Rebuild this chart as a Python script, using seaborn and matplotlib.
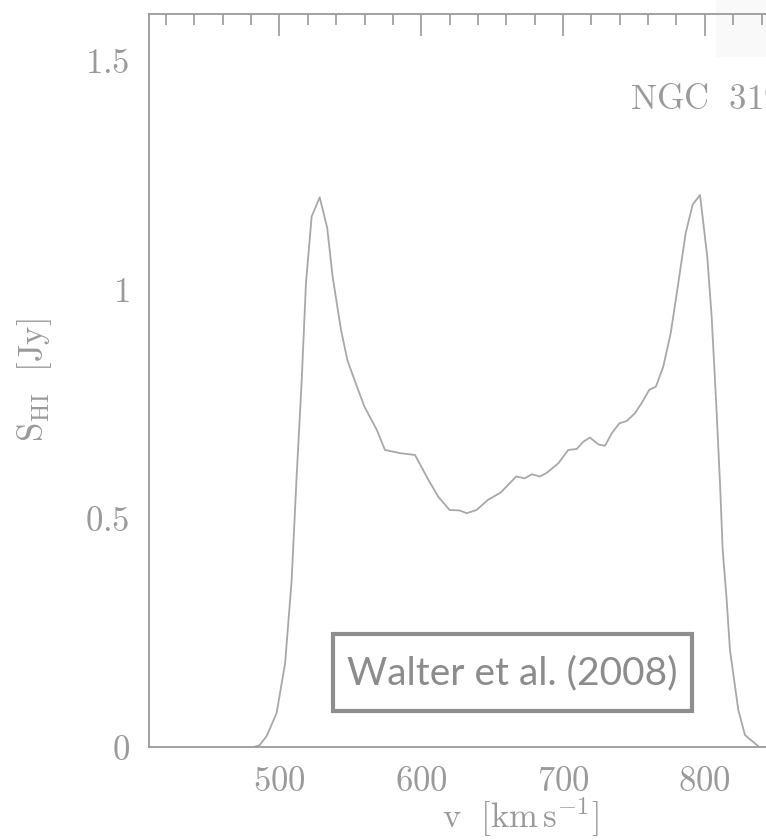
import numpy as np
import pandas as pd
import matplotlib
matplotlib.use("Agg")
import matplotlib.pyplot as plt
from matplotlib.patches import Rectangle
from matplotlib.ticker import MultipleLocator
import seaborn as sns

# ---- data ----
velocity = [482, 486, 491, 498, 504, 508.6, 512, 515.7, 518.7, 522.7, 528.4,
            533.7, 537.5, 543.4, 547.9, 553, 560, 568.6, 574.4, 585, 595.6,
            605, 612, 620, 627, 632, 639, 647, 656, 667, 673, 678, 683.7,
            688.5, 696.7, 703.7, 709.6, 714.3, 719, 724.9, 729.6, 734.3,
            739.7, 744.9, 750.7, 755.4, 760.8, 765.5, 770.7, 775.9, 781.3,
            786.5, 791.4, 796.6, 801.7, 804.8, 807.9, 810.7, 812.6, 815.4,
            817.7, 823.6, 828.3, 838.4, 850]
flux = [0.0, 0.004, 0.024, 0.074, 0.183, 0.364, 0.583, 0.80, 1.012, 1.157, 1.199,
        1.132, 1.026, 0.910, 0.844, 0.800, 0.742, 0.692, 0.648, 0.641, 0.637,
        0.583, 0.546, 0.517, 0.516, 0.510, 0.517, 0.539, 0.555, 0.590, 0.586, 0.595, 0.590,
        0.598, 0.619, 0.648, 0.650, 0.666, 0.675, 0.660, 0.657, 0.684,
        0.706, 0.711, 0.728, 0.750, 0.779, 0.786, 0.830, 0.902, 1.012,
        1.121, 1.183, 1.204, 1.070, 0.939, 0.757, 0.575, 0.430, 0.321,
        0.212, 0.081, 0.026, 0.0, 0.0]
xticks = [500, 600, 700, 800]
xticklabels = ["500", "600", "700", "800"]
yticks = [0, 0.5, 1, 1.5]
yticklabels = ["0", "0.5", "1", "1.5"]
galaxy = "NGC 3198"
source = "Walter et al. (2008)"

df = pd.DataFrame({"v": velocity, "S": flux})

sns.set_style("white")
plt.rcParams["mathtext.fontset"] = "cm"
plt.rcParams["font.family"] = ["DejaVu Serif"]

W, H = 766, 840
fig = plt.figure(figsize=(W / 100, H / 100), dpi=100)
ax = fig.add_axes([149 / W, (H - 747) / H, 743 / W, (747 - 13.5) / H])

gray = "#9a9a9a"
sns.lineplot(data=df, x="v", y="S", ax=ax, color="#a8a8a8", lw=1.3, sort=False)

ax.set_xlim(408, 932)
ax.set_ylim(0, 1.6)

for sp in ax.spines.values():
    sp.set_color(gray)
    sp.set_linewidth(1.3)

ax.set_xticks(xticks)
ax.set_xticklabels([f"${t}$" for t in xticklabels])
ax.set_yticks(yticks)
ax.set_yticklabels([f"${t}$" for t in yticklabels])
ax.xaxis.set_minor_locator(MultipleLocator(20))
ax.yaxis.set_minor_locator(MultipleLocator(0.1))
ax.tick_params(which="both", direction="in", top=True, right=True,
               color=gray, width=1.2, labelcolor=gray, labelsize=25)
ax.tick_params(which="major", length=16)
ax.tick_params(which="minor", length=8)
ax.tick_params(axis="x", which="major", pad=12)
ax.tick_params(axis="y", which="major", pad=14)

ax.set_xlabel(r"$\mathrm{v}\ \ [\mathrm{km\,s^{-1}}]$", fontsize=25, color=gray, labelpad=-2)
ax.set_ylabel(r"$\mathrm{S_{HI}}\ \ [\mathrm{Jy}]$", fontsize=25, color=gray, labelpad=22)

ax.text((630 - 149) / 743, (747 - 109) / 733.5, r"$\mathrm{NGC\ \ 3198}$",
        transform=ax.transAxes, ha="left", va="baseline", fontsize=25, color=gray)

# faint panel at top right
fig.patches.append(Rectangle((716 / W, (H - 57) / H), 0.2, 0.2, transform=fig.transFigure,
                             facecolor="#f9f9f9", edgecolor="none", zorder=-1))
ax.patch.set_alpha(0)

# source box
box_col = "#8e8e8e"
fig.patches.append(Rectangle((333 / W, (H - 711) / H), (692 - 333) / W, (711 - 634) / H,
                             transform=fig.transFigure, facecolor="none",
                             edgecolor=box_col, lw=3, zorder=5))
fig.text(512.5 / W, (H - 673) / H, source, ha="center", va="center",
         fontsize=28, color="#8c8c8c", family=["Lato", "DejaVu Sans"])

fig.savefig("out.png", dpi=100)
